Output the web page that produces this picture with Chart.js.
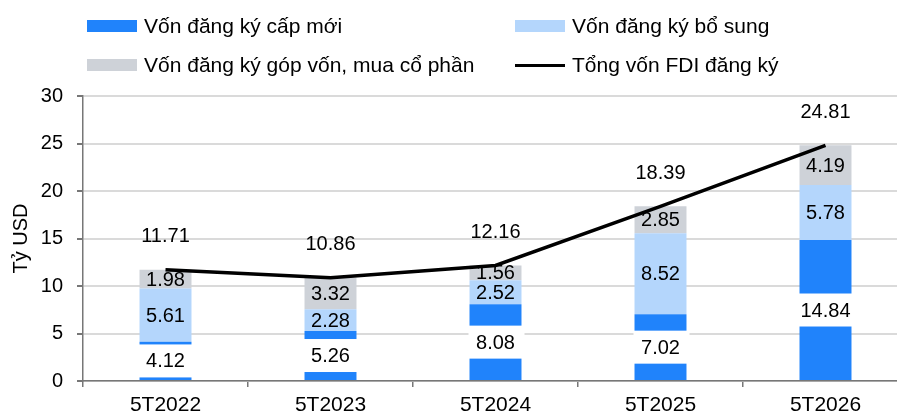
<!DOCTYPE html>
<html>
<head>
<meta charset="utf-8">
<script src="https://cdn.jsdelivr.net/npm/chart.js@4"></script>
<style>
  body { margin: 0; background: #fff; overflow: hidden; width: 897px; height: 414px; position: relative; }
  #chart { position: absolute; left: 0; top: 0; }
  .lg { position: absolute; font: 21px "Liberation Sans", Arial, sans-serif; color: #000; white-space: nowrap; line-height: 24px; }
  .sw { position: absolute; width: 50px; height: 12px; }
</style>
</head>
<body>
<canvas id="chart" width="908" height="414"></canvas>
<div id="legend"></div>
<script>
const categories = ['5T2022', '5T2023', '5T2024', '5T2025', '5T2026'];
const newCapital = [4.12, 5.26, 8.08, 7.02, 14.84];
const addedCapital = [5.61, 2.28, 2.52, 8.52, 5.78];
const shareCapital = [1.98, 3.32, 1.56, 2.85, 4.19];
const totalFDI = [11.71, 10.86, 12.16, 18.39, 24.81];
const yTicks = [0, 5, 10, 15, 20, 25, 30];

const FONT = '"Liberation Sans", Arial, sans-serif';
const BLUE = '#2083fb';
const LIGHT = '#b4d6fc';
const GREY = '#ced2d8';

// legend, two columns like the original
const legendItems = [
  { text: 'Vốn đăng ký cấp mới', color: BLUE, x: 87, y: 26 },
  { text: 'Vốn đăng ký bổ sung', color: LIGHT, x: 515, y: 26 },
  { text: 'Vốn đăng ký góp vốn, mua cổ phần', color: GREY, x: 87, y: 65 },
  { text: 'Tổng vốn FDI đăng ký', color: '#000', x: 515, y: 65, line: true }
];
const legend = document.getElementById('legend');
legendItems.forEach(it => {
  const sw = document.createElement('div');
  sw.className = 'sw';
  sw.style.left = it.x + 'px';
  if (it.line) {
    sw.style.top = (it.y - 1.5) + 'px';
    sw.style.height = '3px';
  } else {
    sw.style.top = (it.y - 6) + 'px';
  }
  sw.style.background = it.color;
  legend.appendChild(sw);
  const t = document.createElement('div');
  t.className = 'lg';
  t.textContent = it.text;
  t.style.left = (it.x + 57) + 'px';
  t.style.top = (it.y - 12) + 'px';
  legend.appendChild(t);
});

// value labels drawn on the bars and above the line
const labelPlugin = {
  id: 'valueLabels',
  afterDatasetsDraw(chart) {
    const ctx = chart.ctx;
    ctx.save();
    ctx.font = '20px ' + FONT;
    ctx.textAlign = 'center';
    ctx.textBaseline = 'middle';
    chart.data.datasets.forEach((ds, i) => {
      const meta = chart.getDatasetMeta(i);
      meta.data.forEach((el, j) => {
        const v = ds.data[j].toFixed(2);
        if (ds.type === 'line') {
          ctx.fillStyle = '#000';
          ctx.fillText(v, el.x, el.y - 33);
          return;
        }
        const cy = (el.y + el.base) / 2;
        if (i === 1) {
          ctx.fillStyle = '#fff';
          ctx.fillRect(el.x - 27, cy - 16.5, 56, 33);
        }
        ctx.fillStyle = '#000';
        ctx.fillText(v, el.x, cy + 1);
      });
    });
    ctx.restore();
  }
};

new Chart(document.getElementById('chart'), {
  type: 'bar',
  data: {
    labels: categories,
    datasets: [
      { type: 'line', label: 'Tổng vốn FDI đăng ký', data: totalFDI, borderColor: '#000', borderWidth: 3.5,
        pointRadius: 0, tension: 0, stack: 'total', order: 0 },
      { label: 'Vốn đăng ký cấp mới', data: newCapital, backgroundColor: BLUE, order: 1 },
      { label: 'Vốn đăng ký bổ sung', data: addedCapital, backgroundColor: LIGHT, order: 1 },
      { label: 'Vốn đăng ký góp vốn, mua cổ phần', data: shareCapital, backgroundColor: GREY, order: 1 }
    ]
  },
  options: {
    responsive: false,
    animation: false,
    layout: { padding: { top: 96, left: 0, right: 0, bottom: 0 } },
    plugins: { legend: { display: false }, tooltip: { enabled: false } },
    datasets: { bar: { categoryPercentage: 1, barPercentage: 0.315 } },
    scales: {
      x: {
        stacked: true,
        grid: { offset: true, drawOnChartArea: false, tickLength: 6, tickColor: '#777', lineWidth: 1.5 },
        border: { color: '#777', width: 1.5 },
        ticks: { color: '#000', font: { family: FONT, size: 21 }, padding: 6 },
        afterFit(scale) { scale.height = 33; }
      },
      y: {
        stacked: true,
        min: 0,
        max: 30,
        afterBuildTicks(scale) { scale.ticks = yTicks.map(v => ({ value: v })); },
        grid: { color: '#dadada', lineWidth: 2, tickLength: 6, tickColor: '#777' },
        border: { color: '#777', width: 1.5 },
        ticks: { color: '#000', font: { family: FONT, size: 20 }, padding: 14 },
        title: { display: true, text: 'Tỷ USD', color: '#000', font: { family: FONT, size: 20 }, padding: { top: 9, bottom: 0 } },
        afterFit(scale) { scale.width = 83; }
      }
    }
  },
  plugins: [labelPlugin]
});
</script>
</body>
</html>
